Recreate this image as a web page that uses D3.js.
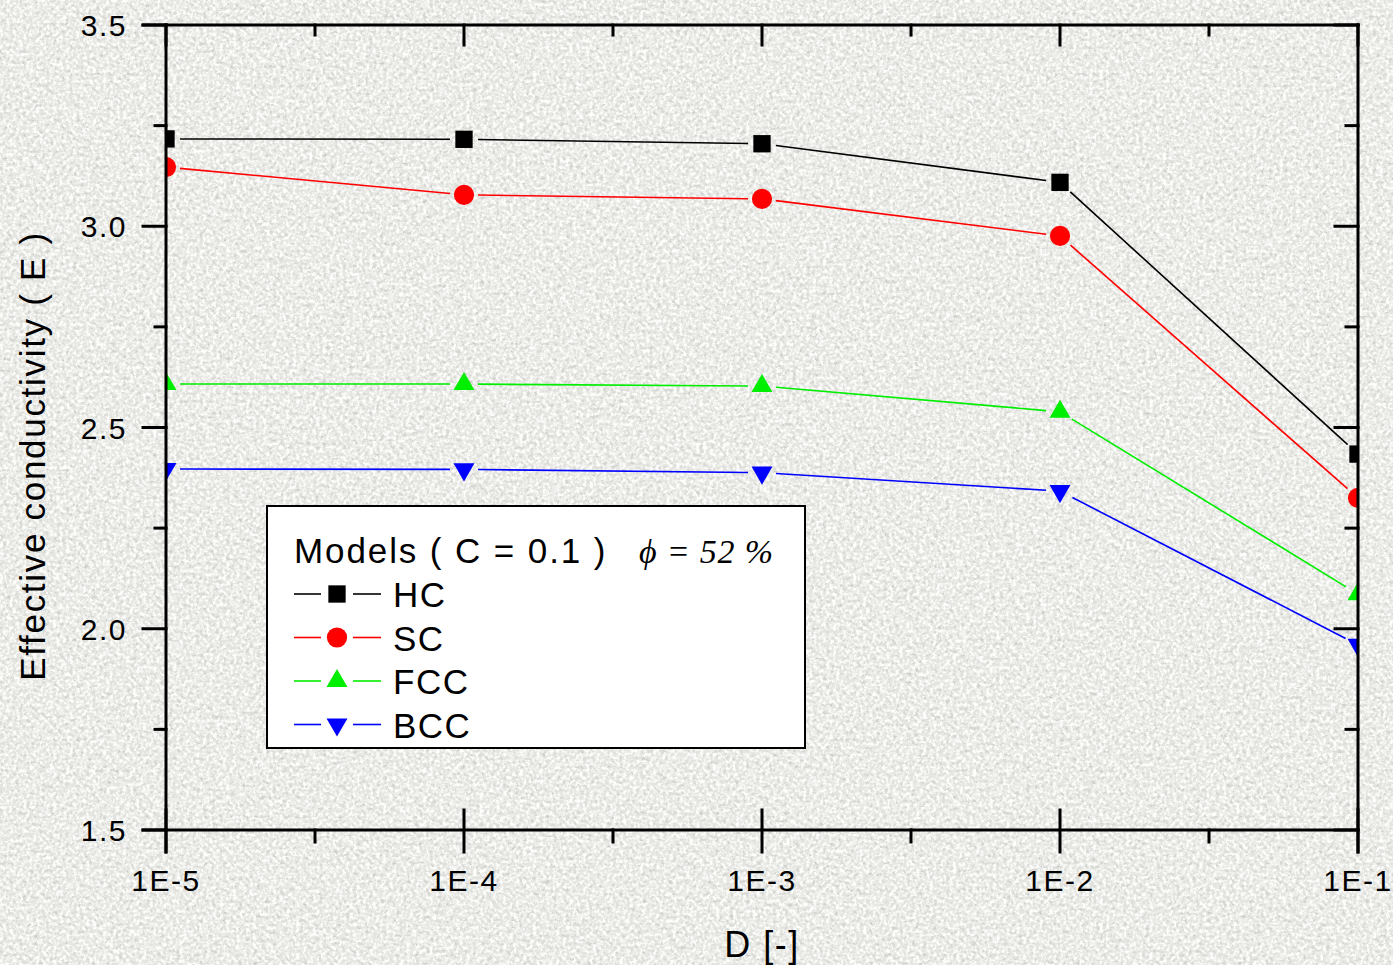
<!DOCTYPE html>
<html>
<head>
<meta charset="utf-8">
<script src="https://cdn.jsdelivr.net/npm/d3@7"></script>
<style>
  html, body { margin: 0; padding: 0; background: #e6e6e2; }
  svg { display: block; }
</style>
</head>
<body>
<svg id="chart" width="1393" height="965"></svg>
<script>
// Effective conductivity vs. D for four packing models
const dValues = [1e-5, 1e-4, 1e-3, 1e-2, 1e-1];
const xTickLabels = ["1E-5", "1E-4", "1E-3", "1E-2", "1E-1"];
const yTickValues = [1.5, 2.0, 2.5, 3.0, 3.5];
const yTickLabels = ["1.5", "2.0", "2.5", "3.0", "3.5"];

const hcValues  = [3.217, 3.216, 3.205, 3.109, 2.434];
const scValues  = [3.147, 3.078, 3.068, 2.976, 2.325];
const fccValues = [2.608, 2.608, 2.603, 2.539, 2.086];
const bccValues = [2.397, 2.396, 2.388, 2.342, 1.960];

const seriesNames = ["HC", "SC", "FCC", "BCC"];
const seriesColors = ["#000000", "#ff0000", "#00ee00", "#0000ff"];

const series = [
  { name: seriesNames[0], values: hcValues,  color: seriesColors[0], symbol: d3.symbolSquare,   size: 300, rot: 0 },
  { name: seriesNames[1], values: scValues,  color: seriesColors[1], symbol: d3.symbolCircle,   size: 320, rot: 0 },
  { name: seriesNames[2], values: fccValues, color: seriesColors[2], symbol: d3.symbolTriangle, size: 190, rot: 0 },
  { name: seriesNames[3], values: bccValues, color: seriesColors[3], symbol: d3.symbolTriangle, size: 190, rot: 180 }
];

const svg = d3.select("#chart");
const W = 1393, H = 965;
const plotL = 166, plotR = 1358, plotT = 25, plotB = 830;

const x = d3.scaleLog().domain([1e-5, 1e-1]).range([plotL, plotR]);
const y = d3.scaleLinear().domain([1.5, 3.5]).range([plotB, plotT]);

// ---- granite-like paper texture ----
const defs = svg.append("defs");
const filt = defs.append("filter").attr("id", "grain")
  .attr("x", 0).attr("y", 0).attr("width", "100%").attr("height", "100%");
filt.append("feTurbulence").attr("type", "fractalNoise")
  .attr("baseFrequency", "0.26").attr("numOctaves", 3).attr("seed", 7).attr("result", "n");
filt.append("feColorMatrix").attr("in", "n").attr("type", "matrix")
  .attr("values", "0 0 0 0 0.6  0 0 0 0 0.6  0 0 0 0 0.58  -3.0 0 0 0 1.42");
const filt2 = defs.append("filter").attr("id", "grainLight")
  .attr("x", 0).attr("y", 0).attr("width", "100%").attr("height", "100%");
filt2.append("feTurbulence").attr("type", "fractalNoise")
  .attr("baseFrequency", "0.3").attr("numOctaves", 2).attr("seed", 19).attr("result", "n");
filt2.append("feColorMatrix").attr("in", "n").attr("type", "matrix")
  .attr("values", "0 0 0 0 1  0 0 0 0 1  0 0 0 0 0.99  3.2 0 0 0 -1.2");

svg.append("rect").attr("width", W).attr("height", H).attr("fill", "#e4e4e0");
svg.append("rect").attr("width", W).attr("height", H).attr("filter", "url(#grainLight)");
svg.append("rect").attr("width", W).attr("height", H).attr("filter", "url(#grain)");

defs.append("clipPath").attr("id", "plotClip")
  .append("rect").attr("x", plotL).attr("y", plotT)
  .attr("width", plotR - plotL).attr("height", plotB - plotT);

// ---- data lines (broken around markers) ----
const gap = 14;
const plot = svg.append("g").attr("clip-path", "url(#plotClip)");
series.forEach(s => {
  const pts = dValues.map((d, i) => [x(d), y(s.values[i])]);
  for (let i = 0; i < pts.length - 1; i++) {
    const [x1, y1] = pts[i], [x2, y2] = pts[i + 1];
    const len = Math.hypot(x2 - x1, y2 - y1);
    const ux = (x2 - x1) / len, uy = (y2 - y1) / len;
    plot.append("line")
      .attr("x1", x1 + ux * gap).attr("y1", y1 + uy * gap)
      .attr("x2", x2 - ux * gap).attr("y2", y2 - uy * gap)
      .attr("stroke", s.color).attr("stroke-width", 1.6);
  }
});

// ---- markers ----
series.forEach(s => {
  const sym = d3.symbol().type(s.symbol).size(s.size);
  plot.selectAll(null).data(dValues).join("path")
    .attr("d", sym)
    .attr("transform", (d, i) => `translate(${x(d)},${y(s.values[i])}) rotate(${s.rot})`)
    .attr("fill", s.color);
});

// ---- axes ----
const aw = 3;
const ax = svg.append("g").attr("stroke", "#000").attr("stroke-width", aw).attr("stroke-linecap", "square");

// frame
ax.append("line").attr("x1", plotL - 23).attr("x2", plotR).attr("y1", plotT).attr("y2", plotT);
ax.append("line").attr("x1", plotL - 23).attr("x2", plotR).attr("y1", plotB).attr("y2", plotB);
ax.append("line").attr("x1", plotL).attr("x2", plotL).attr("y1", plotT).attr("y2", plotB + 22);
ax.append("line").attr("x1", plotR).attr("x2", plotR).attr("y1", plotT).attr("y2", plotB + 22);

// y ticks: outward on the left, inward on the right
const yMinor = d3.range(1.75, 3.5, 0.5);
yTickValues.forEach(v => {
  ax.append("line").attr("x1", plotL - 23).attr("x2", plotL).attr("y1", y(v)).attr("y2", y(v));
  ax.append("line").attr("x1", plotR - 23).attr("x2", plotR).attr("y1", y(v)).attr("y2", y(v));
});
yMinor.forEach(v => {
  ax.append("line").attr("x1", plotL - 11).attr("x2", plotL).attr("y1", y(v)).attr("y2", y(v));
  ax.append("line").attr("x1", plotR - 12).attr("x2", plotR).attr("y1", y(v)).attr("y2", y(v));
});

// x ticks: decades cross the bottom axis, half-decades outward; inward on top
const xMinor = dValues.slice(0, -1).map(d => d * Math.sqrt(10));
dValues.forEach(d => {
  ax.append("line").attr("x1", x(d)).attr("x2", x(d)).attr("y1", plotB - 20).attr("y2", plotB + 22);
  ax.append("line").attr("x1", x(d)).attr("x2", x(d)).attr("y1", plotT).attr("y2", plotT + 20);
});
xMinor.forEach(d => {
  ax.append("line").attr("x1", x(d)).attr("x2", x(d)).attr("y1", plotB).attr("y2", plotB + 12);
  ax.append("line").attr("x1", x(d)).attr("x2", x(d)).attr("y1", plotT).attr("y2", plotT + 10);
});

// tick labels
const font = "'Liberation Sans', Arial, sans-serif";
svg.append("g").selectAll("text").data(yTickValues).join("text")
  .attr("x", 127).attr("y", v => y(v) + 11)
  .attr("text-anchor", "end")
  .attr("font-family", font).attr("font-size", 30).attr("letter-spacing", 1.5)
  .attr("fill", "#000")
  .text((v, i) => yTickLabels[i]);

svg.append("g").selectAll("text").data(dValues).join("text")
  .attr("x", d => x(d)).attr("y", 891)
  .attr("text-anchor", "middle")
  .attr("font-family", font).attr("font-size", 30).attr("letter-spacing", 1.5)
  .attr("fill", "#000")
  .text((d, i) => xTickLabels[i]);

// axis titles
svg.append("text")
  .attr("x", x(1e-3)).attr("y", 957)
  .attr("text-anchor", "middle")
  .attr("font-family", font).attr("font-size", 36).attr("letter-spacing", 1.5)
  .text("D [-]");

svg.append("text")
  .attr("transform", "translate(45,456) rotate(-90)")
  .attr("text-anchor", "middle")
  .attr("font-family", font).attr("font-size", 35).attr("letter-spacing", 1.7)
  .text("Effective conductivity ( E )");

// ---- legend ----
const lg = svg.append("g");
lg.append("rect").attr("x", 267).attr("y", 506).attr("width", 538).attr("height", 242)
  .attr("fill", "#fff").attr("stroke", "#000").attr("stroke-width", 2);

lg.append("text").attr("x", 294).attr("y", 563)
  .attr("font-family", font).attr("font-size", 35).attr("letter-spacing", 1.9)
  .text("Models ( C = 0.1 )");
lg.append("text").attr("x", 639).attr("y", 563)
  .attr("font-family", "'Liberation Serif', 'Times New Roman', serif")
  .attr("font-style", "italic").attr("font-size", 34).attr("letter-spacing", 0.8)
  .text("\u03D5 = 52 %");

series.forEach((s, i) => {
  const cy = 594 + i * 43.5;
  const g = lg.append("g");
  g.append("line").attr("x1", 294).attr("x2", 321).attr("y1", cy).attr("y2", cy)
    .attr("stroke", s.color).attr("stroke-width", 1.6);
  g.append("line").attr("x1", 353).attr("x2", 381).attr("y1", cy).attr("y2", cy)
    .attr("stroke", s.color).attr("stroke-width", 1.6);
  g.append("path").attr("d", d3.symbol().type(s.symbol).size(s.size))
    .attr("transform", `translate(337,${cy}) rotate(${s.rot})`)
    .attr("fill", s.color);
  g.append("text").attr("x", 393).attr("y", cy + 13)
    .attr("font-family", font).attr("font-size", 35).attr("letter-spacing", 1.5)
    .text(s.name);
});
</script>
</body>
</html>
